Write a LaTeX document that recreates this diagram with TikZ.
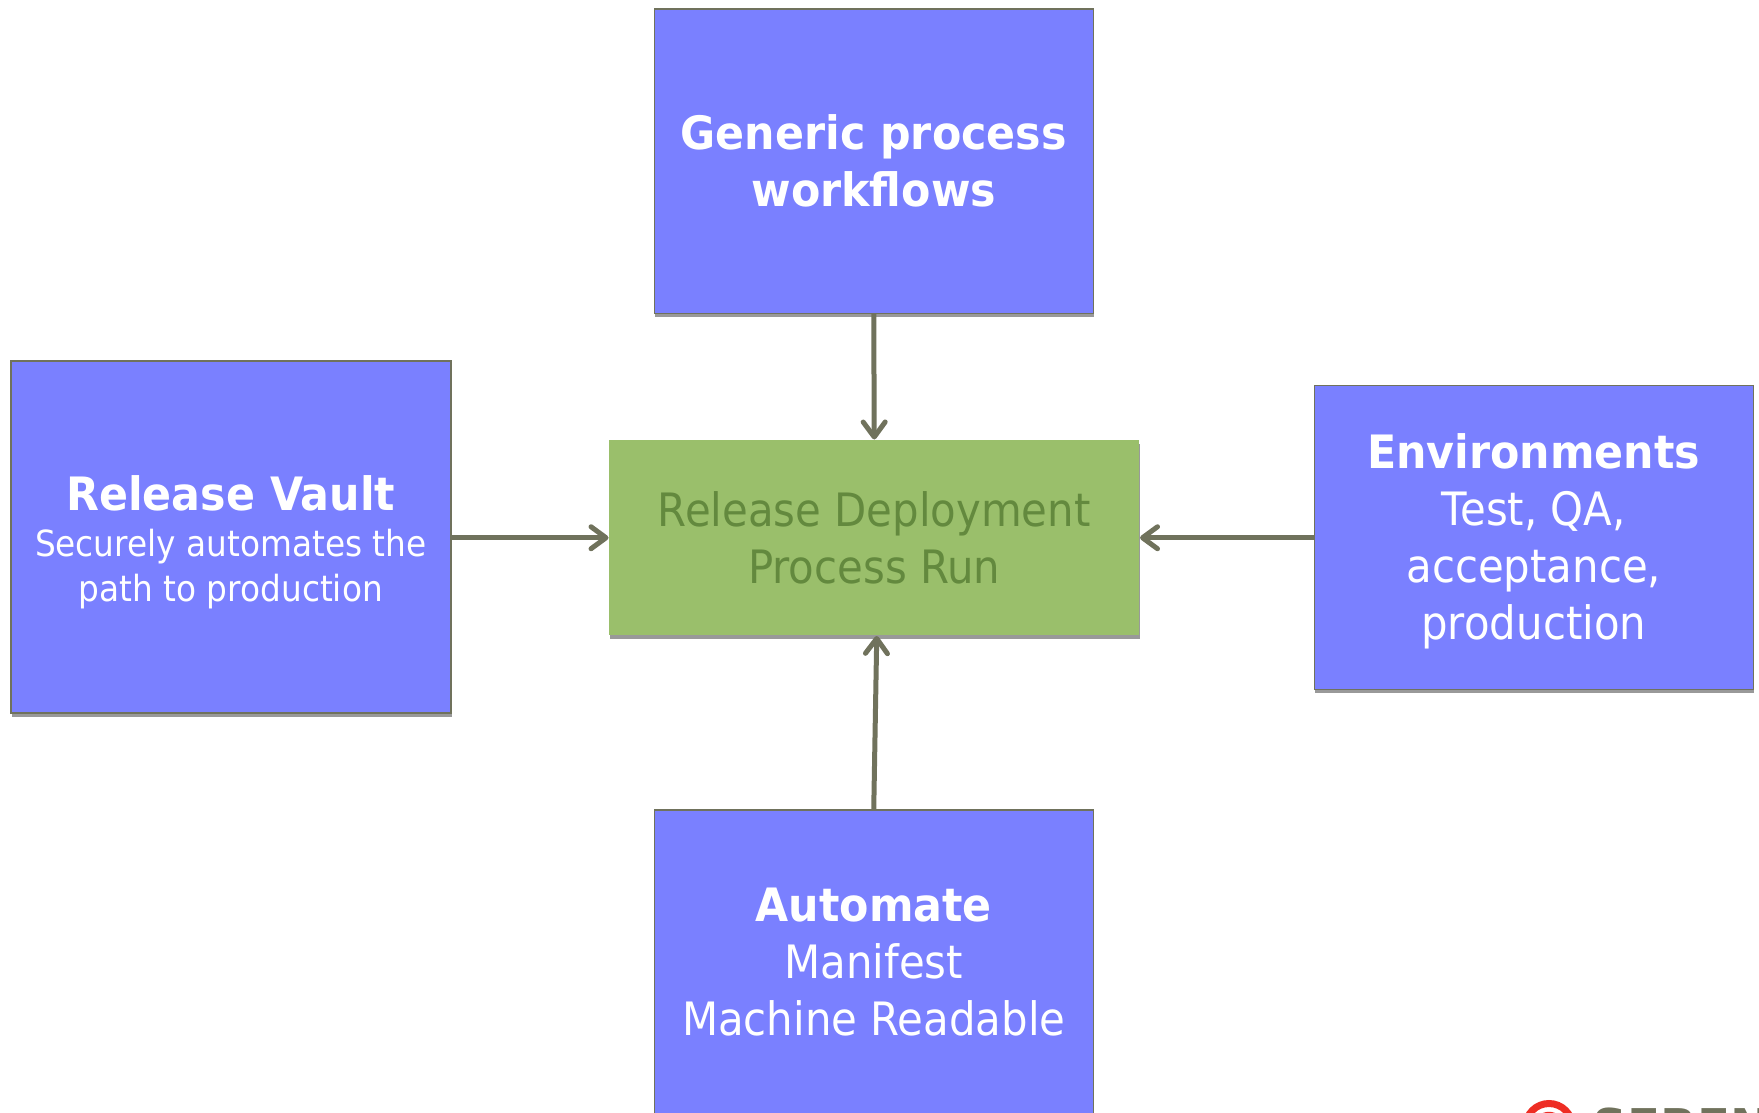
\documentclass[tikz,border=0pt]{standalone}
\usepackage{fontspec}
\setmainfont{DejaVu Sans}[FakeStretch=0.91,BoldFeatures={FakeStretch=0.93}]
\usetikzlibrary{arrows.meta,shadows}
\definecolor{boxc}{RGB}{122,128,255}
\definecolor{procc}{RGB}{154,191,107}
\definecolor{proct}{RGB}{99,137,62}
\definecolor{linec}{RGB}{112,114,92}
\definecolor{logoc}{RGB}{238,45,36}
\newcommand{\subline}{\fontsize{36}{45}\selectfont}
\tikzset{
  inbox/.style={
    draw=linec,
    line width=1.5pt,
    fill=boxc,
    text=white,
    align=center,
    anchor=north west,
    inner sep=0pt,
    minimum width=439pt,
    minimum height=304pt,
    font=\fontsize{46}{57}\selectfont,
    drop shadow={shadow xshift=1pt,shadow yshift=-4pt,opacity=0.4,fill=black},
  },
  feed/.style={
    draw=linec,
    line width=5pt,
    -{Straight Barb[length=15pt,width=22pt,line width=5pt,round]},
  },
}
\begin{document}
\begin{tikzpicture}[x=1pt,y=-1pt]
      \useasboundingbox (0,0) rectangle (1759,1113);
      \clip (0,0) rectangle (1759,1113);

      % Boxes
      \node[inbox] (generic) at (653.5,8.5)
        {\bfseries Generic process\\ \bfseries workflows};
      \node[inbox,minimum width=440pt,minimum height=352pt] (vault) at (10,360)
        {\rule{0pt}{45pt}\bfseries Release Vault\\[-11pt]
         \subline Securely automates the\\[-12pt] \subline path to production};
      \node[inbox] (envs) at (1313.5,384.5)
        {\rule{0pt}{44pt}\bfseries Environments\\ Test, QA,\\ acceptance,\\ production};
      \node[inbox] (automate) at (653.5,809)
        {\bfseries Automate\\ Manifest\\ Machine Readable};

      % Centre
      \node[inbox,draw=none,fill=procc,text=proct,minimum width=530pt,minimum height=195pt]
        (process) at (608.5,439.5)
        {Release Deployment\\ Process Run};

      % Arrows
      \draw[feed] (generic.south) -- (process.north);
      \draw[feed] (vault.east |- process.west) -- (process.west);
      \draw[feed] (envs.west |- process.east) -- (process.east);
      \draw[feed] (automate.north) -- ([xshift=2.5pt]process.south);

      % Logo
      \coordinate (logo) at (1549,1127);
      \draw[logoc,line width=7pt] (logo) circle (23.5);
      \draw[logoc,line width=2.5pt] (logo) circle (14);
      \node[anchor=base west,inner sep=0pt,text=linec,font=\bfseries\fontsize{52}{52}\selectfont]
        (serena) at (1592,1146) {SEREN};
    \end{tikzpicture}
\end{document}
